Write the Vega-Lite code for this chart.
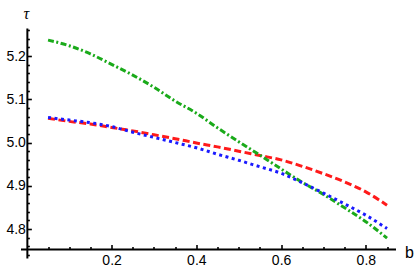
{
  "$schema": "https://vega.github.io/schema/vega-lite/v6.json",
  "width": 375,
  "height": 230,
  "autosize": {"type": "none"},
  "padding": {"left": 20.5, "top": 28, "right": 19.5, "bottom": 17},
  "background": "white",
  "config": {"view": {"stroke": null}},
  "data": {
    "values": [
      {"b": 0.05, "tau": 5.056, "s": "r"}, {"b": 0.10, "tau": 5.049, "s": "r"}, {"b": 0.15, "tau": 5.043, "s": "r"},
      {"b": 0.20, "tau": 5.035, "s": "r"}, {"b": 0.25, "tau": 5.027, "s": "r"}, {"b": 0.30, "tau": 5.018, "s": "r"},
      {"b": 0.35, "tau": 5.009, "s": "r"}, {"b": 0.40, "tau": 4.999, "s": "r"}, {"b": 0.45, "tau": 4.990, "s": "r"},
      {"b": 0.50, "tau": 4.980, "s": "r"}, {"b": 0.55, "tau": 4.970, "s": "r"}, {"b": 0.60, "tau": 4.960, "s": "r"},
      {"b": 0.65, "tau": 4.945, "s": "r"}, {"b": 0.70, "tau": 4.928, "s": "r"}, {"b": 0.75, "tau": 4.909, "s": "r"},
      {"b": 0.80, "tau": 4.886, "s": "r"}, {"b": 0.85, "tau": 4.855, "s": "r"},
      {"b": 0.05, "tau": 5.237, "s": "g"}, {"b": 0.10, "tau": 5.224, "s": "g"}, {"b": 0.15, "tau": 5.205, "s": "g"},
      {"b": 0.20, "tau": 5.181, "s": "g"}, {"b": 0.25, "tau": 5.156, "s": "g"}, {"b": 0.30, "tau": 5.128, "s": "g"},
      {"b": 0.35, "tau": 5.096, "s": "g"}, {"b": 0.40, "tau": 5.068, "s": "g"}, {"b": 0.45, "tau": 5.034, "s": "g"},
      {"b": 0.50, "tau": 5.002, "s": "g"}, {"b": 0.55, "tau": 4.971, "s": "g"}, {"b": 0.60, "tau": 4.939, "s": "g"},
      {"b": 0.65, "tau": 4.908, "s": "g"}, {"b": 0.70, "tau": 4.880, "s": "g"}, {"b": 0.75, "tau": 4.849, "s": "g"},
      {"b": 0.80, "tau": 4.817, "s": "g"}, {"b": 0.85, "tau": 4.779, "s": "g"},
      {"b": 0.05, "tau": 5.058, "s": "b"}, {"b": 0.10, "tau": 5.052, "s": "b"}, {"b": 0.15, "tau": 5.046, "s": "b"},
      {"b": 0.20, "tau": 5.037, "s": "b"}, {"b": 0.25, "tau": 5.024, "s": "b"}, {"b": 0.30, "tau": 5.012, "s": "b"},
      {"b": 0.35, "tau": 5.000, "s": "b"}, {"b": 0.40, "tau": 4.988, "s": "b"}, {"b": 0.45, "tau": 4.973, "s": "b"},
      {"b": 0.50, "tau": 4.959, "s": "b"}, {"b": 0.55, "tau": 4.944, "s": "b"}, {"b": 0.60, "tau": 4.929, "s": "b"},
      {"b": 0.65, "tau": 4.907, "s": "b"}, {"b": 0.70, "tau": 4.883, "s": "b"}, {"b": 0.75, "tau": 4.858, "s": "b"},
      {"b": 0.80, "tau": 4.832, "s": "b"}, {"b": 0.85, "tau": 4.801, "s": "b"}
    ]
  },
  "mark": {"type": "line", "strokeWidth": 3, "interpolate": "monotone", "clip": false, "strokeCap": "butt"},
  "encoding": {
    "x": {
      "field": "b", "type": "quantitative",
      "scale": {"domain": [-0.015, 0.87], "nice": false, "zero": false},
      "axis": {
        "title": "b", "titleAngle": 0, "titleX": 388.5, "titleY": 3, "titleAlign": "center", "titleBaseline": "middle",
        "titleFont": "Liberation Sans", "titleFontSize": 16, "titleFontWeight": "normal", "titleColor": "black",
        "offset": -9,
        "values": [0.05, 0.1, 0.15, 0.2, 0.25, 0.3, 0.35, 0.4, 0.45, 0.5, 0.55, 0.6, 0.65, 0.7, 0.75, 0.8, 0.85],
        "labelExpr": "abs(datum.value*5 - round(datum.value*5)) < 0.001 ? format(datum.value, '.1f') : ''",
        "tickSize": {"condition": {"test": "abs(datum.value*5 - round(datum.value*5)) < 0.001", "value": -4.5}, "value": -2.5},
        "tickWidth": 1.6, "tickColor": "black",
        "domainColor": "black", "domainWidth": 2,
        "labelFont": "Liberation Sans", "labelFontSize": 14, "labelColor": "black", "labelPadding": 9,
        "labelFlush": false, "labelOverlap": false, "grid": false
      }
    },
    "y": {
      "field": "tau", "type": "quantitative",
      "scale": {"domain": [4.733, 5.265], "nice": false, "zero": false},
      "axis": {
        "title": "τ", "titleAngle": 0, "titleX": -1, "titleY": -15, "titleAlign": "center", "titleBaseline": "middle",
        "titleFont": "Liberation Serif", "titleFontSize": 16, "titleFontStyle": "italic", "titleFontWeight": "normal", "titleColor": "black",
        "offset": -6.36,
        "values": [4.74, 4.76, 4.78, 4.8, 4.82, 4.84, 4.86, 4.88, 4.9, 4.92, 4.94, 4.96, 4.98, 5.0, 5.02, 5.04, 5.06, 5.08, 5.1, 5.12, 5.14, 5.16, 5.18, 5.2, 5.22, 5.24, 5.26],
        "labelExpr": "abs(datum.value*10 - round(datum.value*10)) < 0.001 ? format(datum.value, '.1f') : ''",
        "tickSize": {"condition": {"test": "abs(datum.value*10 - round(datum.value*10)) < 0.001", "value": -4.5}, "value": -2.5},
        "tickWidth": 1.6, "tickColor": "black",
        "domainColor": "black", "domainWidth": 2,
        "labelFont": "Liberation Sans", "labelFontSize": 14, "labelColor": "black", "labelPadding": 6,
        "labelFlush": false, "labelOverlap": false, "grid": false
      }
    },
    "color": {
      "field": "s", "type": "nominal", "legend": null,
      "scale": {"domain": ["r", "g", "b"], "range": ["#ff1a1a", "#1aaa1a", "#1a1aff"]}
    },
    "strokeDash": {
      "field": "s", "type": "nominal", "legend": null,
      "scale": {"domain": ["r", "g", "b"], "range": [[7, 3.5], [6, 2.5, 2, 2.5], [3, 3.5]]}
    },
    "order": {"field": "b", "type": "quantitative"}
  }
}
